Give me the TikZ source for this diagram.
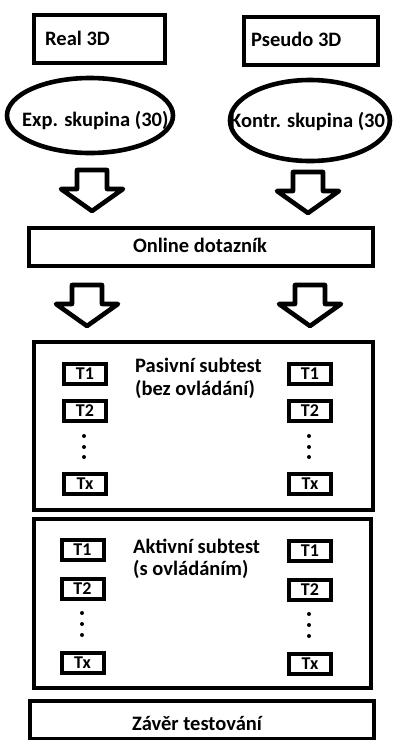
\documentclass[tikz,border=0pt]{standalone}
\usepackage{fontspec}
\setmainfont{Carlito}
\usetikzlibrary{shapes.geometric}
\tikzset{
  frame/.style={draw, line width=4.6pt, inner sep=0pt},
  tbox/.style={draw, line width=4pt, minimum width=42pt, minimum height=20pt, inner sep=0pt,
    font=\bfseries\fontsize{18}{20}\selectfont},
  ell/.style={draw, ellipse, line width=4.6pt, inner sep=0pt},
  lbl/.style={font=\bfseries\fontsize{20.5}{23}\selectfont, inner sep=0pt, text=black},
  dotn/.style={circle, fill=black, inner sep=0pt, minimum size=4pt},
  barrow/.pic={\draw[line width=4.6pt, line join=round]
     (-15,0) -- (15,0) -- (15,19) -- (31,19) -- (0,41) -- (-31,19) -- (-15,19) -- cycle;}
}
\begin{document}
\begin{tikzpicture}[x=1pt,y=-1pt]
\useasboundingbox[fill=white] (0,0) rectangle (393,740);

% top boxes
\node[frame, minimum width=131pt, minimum height=48pt] (real) at (99.5,39) {};
\node[lbl, anchor=base west] (realt) at (45,45) {Real 3D};
\node[frame, minimum width=134pt, minimum height=48pt] (pseudo) at (311,41) {};
\node[lbl, anchor=base west] (pseudot) at (251,46) {Pseudo 3D};

% ellipses
\node[ell, minimum width=166pt, minimum height=75pt] (exp) at (90,115.5) {};
\node[lbl, anchor=base west] (expt) at (22,126) {Exp. skupina (30)};
\node[ell, minimum width=160pt, minimum height=81pt] (kon) at (310,120.5) {};
\node[lbl, anchor=base west] (kont) at (230,127) {Kontr. skupina (30)};

% arrows row 1
\pic at (92,170) {barrow};
\pic at (308,172) {barrow};

% online
\node[frame, minimum width=344pt, minimum height=38pt] (online) at (201,247) {};
\node[lbl, anchor=base] (onlinet) at (200,252) {Online dotazník};

% arrows row 2
\pic at (87,285) {barrow};
\pic at (310,285) {barrow};

% pasivni
\node[frame, minimum width=339pt, minimum height=168pt] (pas) at (203.5,426) {};
\node[lbl, anchor=base west] (pas1) at (135,372) {Pasivní subtest};
\node[lbl, anchor=base west] (pas2) at (135,395) {(bez ovládání)};
\node[tbox] (p1l) at (85,373.5) {T1};
\node[tbox] (p2l) at (85,411) {T2};
\node[dotn] (pd1l) at (84,436) {};
\node[dotn] (pd2l) at (84,447) {};
\node[dotn] (pd3l) at (84,457) {};
\node[tbox] (pxl) at (85,483.5) {Tx};
\node[tbox] (p1r) at (310,373.5) {T1};
\node[tbox] (p2r) at (310,411) {T2};
\node[dotn] (pd1r) at (309,436) {};
\node[dotn] (pd2r) at (309,447) {};
\node[dotn] (pd3r) at (309,457) {};
\node[tbox] (pxr) at (310,483.5) {Tx};

% aktivni
\node[frame, minimum width=337pt, minimum height=169pt] (akt) at (202.5,603.5) {};
\node[lbl, anchor=base west] (akt1) at (133,553) {Aktivní subtest};
\node[lbl, anchor=base west] (akt2) at (133,575) {(s ovládáním)};
\node[tbox] (a1l) at (82.5,550) {T1};
\node[tbox] (a2l) at (82.5,589) {T2};
\node[dotn] (ad1l) at (82,613) {};
\node[dotn] (ad2l) at (82,624) {};
\node[dotn] (ad3l) at (82,635) {};
\node[tbox] (axl) at (82.5,663) {Tx};
\node[tbox] (a1r) at (310,551) {T1};
\node[tbox] (a2r) at (310,590) {T2};
\node[dotn] (ad1r) at (309,614) {};
\node[dotn] (ad2r) at (309,625) {};
\node[dotn] (ad3r) at (309,636) {};
\node[tbox] (axr) at (310,664) {Tx};

% zaver
\node[frame, minimum width=344pt, minimum height=38pt] (zav) at (202,720) {};
\node[lbl, anchor=base] (zavt) at (197,730) {Závěr testování};
\end{tikzpicture}
\end{document}
